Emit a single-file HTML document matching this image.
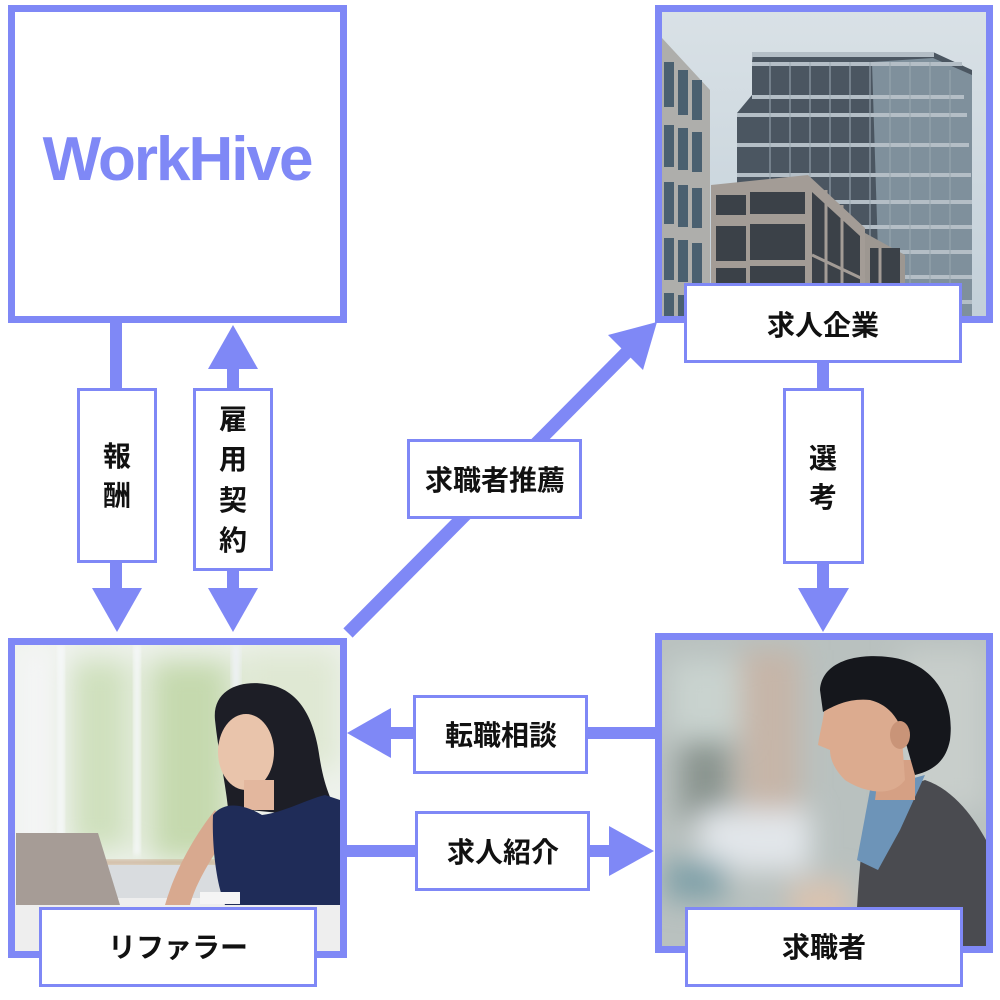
<!DOCTYPE html>
<html><head><meta charset="utf-8"><style>
html,body{margin:0;padding:0;background:#fff;}
svg{display:block;}
text{font-family:"Liberation Sans","Noto Sans CJK JP",sans-serif;}
.jp{font-family:"Liberation Sans","Noto Sans CJK JP",sans-serif;font-weight:bold;font-size:28px;fill:#111;}
</style></head><body>
<svg width="1000" height="1000" viewBox="0 0 1000 1000" xmlns="http://www.w3.org/2000/svg">
<defs>
<filter id="b3" x="-20%" y="-20%" width="140%" height="140%"><feGaussianBlur stdDeviation="3"/></filter>
<filter id="b8" x="-30%" y="-30%" width="160%" height="160%"><feGaussianBlur stdDeviation="8"/></filter>
<filter id="b14" x="-30%" y="-30%" width="160%" height="160%"><feGaussianBlur stdDeviation="14"/></filter>
<clipPath id="c1"><rect x="662" y="12" width="324" height="304"/></clipPath>
<clipPath id="c2"><rect x="15" y="645" width="325" height="306"/></clipPath>
<clipPath id="c3"><rect x="662" y="640" width="324" height="306"/></clipPath>
<linearGradient id="sky" x1="0" y1="0" x2="0" y2="1"><stop offset="0" stop-color="#d9e1e6"/><stop offset="1" stop-color="#c3d0d9"/></linearGradient>
</defs>
<rect width="1000" height="1000" fill="#fff"/>

<!-- WorkHive box -->
<rect x="11.5" y="8.5" width="332" height="311" fill="#fff" stroke="#7f88f6" stroke-width="7"/>
<text x="177" y="180" text-anchor="middle" font-size="62" font-weight="bold" letter-spacing="-2" fill="#7f88f6" style="font-family:'Liberation Sans',sans-serif">WorkHive</text>

<!-- Building photo -->
<g clip-path="url(#c1)">
  <rect x="662" y="12" width="324" height="304" fill="url(#sky)"/>
  <!-- tower -->
  <polygon points="753,52 933,52 972,70 972,316 820,316 820,200 737,200 737,113 752,95 752,62" fill="#4b5661"/>
  <polygon points="872,62 933,58 972,75 972,316 880,316" fill="#7f909c"/>
  <g fill="#b4bec6">
    <rect x="752" y="52" width="182" height="5"/>
    <rect x="752" y="62" width="210" height="4"/>
    <rect x="752" y="95" width="212" height="4"/>
    <rect x="737" y="113" width="230" height="4"/>
    <rect x="737" y="143" width="232" height="4"/>
    <rect x="737" y="173" width="234" height="4"/>
    <rect x="800" y="200" width="172" height="4"/>
    <rect x="820" y="225" width="152" height="4"/>
    <rect x="830" y="250" width="142" height="4"/>
    <rect x="850" y="275" width="122" height="4"/>
    <rect x="860" y="300" width="112" height="4"/>
  </g>
  <g stroke="#9aa7b1" stroke-width="1.5" opacity="0.7">
    <line x1="770" y1="62" x2="770" y2="200"/><line x1="790" y1="62" x2="790" y2="200"/>
    <line x1="810" y1="62" x2="810" y2="200"/><line x1="830" y1="62" x2="830" y2="200"/>
    <line x1="850" y1="62" x2="850" y2="316"/><line x1="870" y1="62" x2="870" y2="316"/>
    <line x1="890" y1="62" x2="890" y2="316"/><line x1="910" y1="62" x2="910" y2="316"/>
    <line x1="930" y1="62" x2="930" y2="316"/><line x1="950" y1="70" x2="950" y2="316"/>
  </g>
  <!-- left building -->
  <polygon points="662,38 710,90 710,316 662,316" fill="#aeaeab"/>
  <g fill="#4a6070">
    <rect x="664" y="62" width="10" height="45"/><rect x="678" y="70" width="10" height="45"/><rect x="692" y="80" width="10" height="40"/>
    <rect x="664" y="125" width="10" height="42"/><rect x="678" y="128" width="10" height="42"/><rect x="692" y="132" width="10" height="40"/>
    <rect x="664" y="182" width="10" height="42"/><rect x="678" y="185" width="10" height="42"/><rect x="692" y="188" width="10" height="40"/>
    <rect x="664" y="238" width="10" height="42"/><rect x="678" y="240" width="10" height="42"/><rect x="692" y="243" width="10" height="40"/>
    <rect x="664" y="293" width="10" height="23"/><rect x="678" y="295" width="10" height="21"/><rect x="692" y="297" width="10" height="19"/>
  </g>
  <!-- lower building -->
  <polygon points="711,185 808,175 865,228 865,316 711,316" fill="#a39c96"/>
  <polygon points="865,233 905,255 905,316 865,316" fill="#9d9791"/>
  <g fill="#3b4148">
    <rect x="716" y="195" width="30" height="20"/><rect x="750" y="192" width="55" height="22"/>
    <rect x="716" y="226" width="30" height="35"/><rect x="750" y="224" width="55" height="36"/>
    <rect x="716" y="268" width="30" height="40"/><rect x="750" y="266" width="55" height="42"/>
    <polygon points="812,192 860,236 860,316 812,316"/>
    <rect x="870" y="248" width="30" height="68"/>
  </g>
  <g stroke="#a39c96" stroke-width="3">
    <line x1="826" y1="190" x2="826" y2="316"/><line x1="842" y1="205" x2="842" y2="316"/>
    <line x1="812" y1="255" x2="865" y2="280"/><line x1="880" y1="248" x2="880" y2="316"/>
  </g>
</g>
<rect x="658.5" y="8.5" width="331" height="311" fill="none" stroke="#7f88f6" stroke-width="7"/>

<!-- Woman photo -->
<g clip-path="url(#c2)">
  <rect x="15" y="645" width="325" height="306" fill="#eef2ec"/>
  <g filter="url(#b14)">
    <rect x="70" y="660" width="60" height="190" fill="#cfe0bd"/>
    <rect x="150" y="660" width="80" height="200" fill="#c5d9ae"/>
    <rect x="240" y="650" width="100" height="120" fill="#dfe8d3"/>
    <rect x="15" y="645" width="45" height="250" fill="#f4f5f5"/>
  </g>
  <rect x="58" y="645" width="6" height="200" fill="#f7f9fb" filter="url(#b3)"/>
  <rect x="134" y="645" width="6" height="210" fill="#f7f9fb" filter="url(#b3)"/>
  <rect x="232" y="645" width="8" height="180" fill="#eef2f5" filter="url(#b3)"/>
  <rect x="100" y="860" width="120" height="5" fill="#c9a78d" filter="url(#b3)"/>
  <rect x="100" y="865" width="130" height="40" fill="#d9dcdf"/>
  <!-- table -->
  <rect x="15" y="898" width="325" height="55" fill="#eeeeee"/>
  <!-- laptop -->
  <polygon points="16,833 98,833 120,905 16,905" fill="#a69c96"/>
  <!-- arm -->
  <path d="M165,905 C175,870 195,835 215,810 L230,830 C210,860 195,885 190,905 Z" fill="#d8a98f"/>
  <!-- hair -->
  <path d="M215,720 C212,690 240,680 265,684 C300,688 315,720 320,760 C325,790 333,805 340,815 L300,815 L228,808 C225,780 218,750 215,720 Z" fill="#1d1e26"/>
  <!-- face -->
  <ellipse cx="246" cy="752" rx="28" ry="38" fill="#e9c4ab"/>
  <rect x="244" y="780" width="30" height="30" fill="#e3b79e"/>
  <!-- navy top -->
  <path d="M213,815 C225,800 245,805 262,815 C285,812 305,800 325,795 L340,800 L340,905 L225,905 C215,880 212,840 213,815 Z" fill="#1f2c58"/>
  <rect x="200" y="892" width="40" height="12" fill="#f5f5f5"/>
</g>
<rect x="11.5" y="641.5" width="332" height="313" fill="none" stroke="#7f88f6" stroke-width="7"/>

<!-- Man photo -->
<g clip-path="url(#c3)">
  <rect x="662" y="640" width="324" height="306" fill="#b9c1bf"/>
  <g filter="url(#b14)">
    <rect x="670" y="660" width="70" height="80" fill="#c9d3cf"/>
    <rect x="740" y="650" width="60" height="200" fill="#c6b5a8"/>
    <rect x="680" y="740" width="50" height="80" fill="#8a948f"/>
    <rect x="700" y="810" width="110" height="60" fill="#e2e6ea"/>
    <rect x="665" y="860" width="60" height="40" fill="#7fa0a8"/>
    <rect x="900" y="650" width="86" height="160" fill="#c8cecb"/>
    <rect x="790" y="880" width="60" height="66" fill="#d9c3b0"/>
  </g>
  <!-- jacket -->
  <path d="M855,946 C858,880 862,830 870,800 L925,780 C955,790 975,820 986,840 L986,946 Z" fill="#4a4b50"/>
  <!-- collar -->
  <path d="M870,790 L925,775 L900,830 L878,870 L857,860 Z" fill="#6d94b8"/>
  <!-- neck/face -->
  <path d="M880,760 L915,760 L915,800 L875,800 Z" fill="#d5a084"/>
  <path d="M825,700 C835,690 880,690 900,710 L905,780 C890,800 860,790 845,780 C835,770 830,760 830,750 L818,745 C820,730 825,715 825,700 Z" fill="#dcab8f"/>
  <!-- hair -->
  <path d="M820,690 C822,660 860,652 895,658 C935,665 955,700 950,740 C946,760 935,770 915,775 L905,740 C900,720 890,705 870,700 C850,698 835,705 823,712 Z" fill="#15171c"/>
  <ellipse cx="900" cy="735" rx="10" ry="14" fill="#c99478"/>
</g>
<rect x="658.5" y="636.5" width="331" height="313" fill="none" stroke="#7f88f6" stroke-width="7"/>

<!-- Arrows -->
<g fill="#7f88f6">
  <!-- 報酬 -->
  <rect x="110" y="323" width="12" height="266"/>
  <polygon points="92,588 142,588 117,632"/>
  <!-- 雇用契約 -->
  <rect x="227" y="368" width="12" height="221"/>
  <polygon points="208,369 258,369 233,325"/>
  <polygon points="208,588 258,588 233,632"/>
  <!-- 選考 -->
  <rect x="817" y="362" width="12" height="227"/>
  <polygon points="798,588 849,588 823,632"/>
  <!-- 転職相談 -->
  <rect x="390" y="727" width="266" height="12"/>
  <polygon points="391,708 391,758 347,733"/>
  <!-- 求人紹介 -->
  <rect x="346" y="845" width="264" height="12"/>
  <polygon points="609,826 609,876 654,851"/>
  <!-- diagonal -->
  <line x1="348" y1="633" x2="628" y2="351" stroke="#7f88f6" stroke-width="13"/>
  <polygon points="657,322 608,335 643,370"/>
</g>

<!-- Labels -->
<g fill="#fff" stroke="#7f88f6" stroke-width="3">
  <rect x="685.5" y="284.5" width="275" height="77"/>
  <rect x="40.5" y="908.5" width="275" height="77"/>
  <rect x="686.5" y="908.5" width="275" height="77"/>
  <rect x="408.5" y="440.5" width="172" height="77"/>
  <rect x="414.5" y="696.5" width="172" height="76"/>
  <rect x="416.5" y="812.5" width="172" height="77"/>
  <rect x="78.5" y="389.5" width="77" height="172"/>
  <rect x="194.5" y="389.5" width="77" height="180"/>
  <rect x="784.5" y="389.5" width="78" height="173"/>
</g>
<g class="jp" text-anchor="middle">
  <text x="823" y="335">求人企業</text>
  <text x="178" y="957">リファラー</text>
  <text x="824" y="957">求職者</text>
  <text x="495" y="490">求職者推薦</text>
  <text x="501" y="745">転職相談</text>
  <text x="503" y="862">求人紹介</text>
  <text x="117" y="466">報</text>
  <text x="117" y="505">酬</text>
  <text x="233" y="429">雇</text>
  <text x="233" y="469">用</text>
  <text x="233" y="510">契</text>
  <text x="233" y="550">約</text>
  <text x="823" y="468">選</text>
  <text x="823" y="507">考</text>
</g>
</svg>
</body></html>
